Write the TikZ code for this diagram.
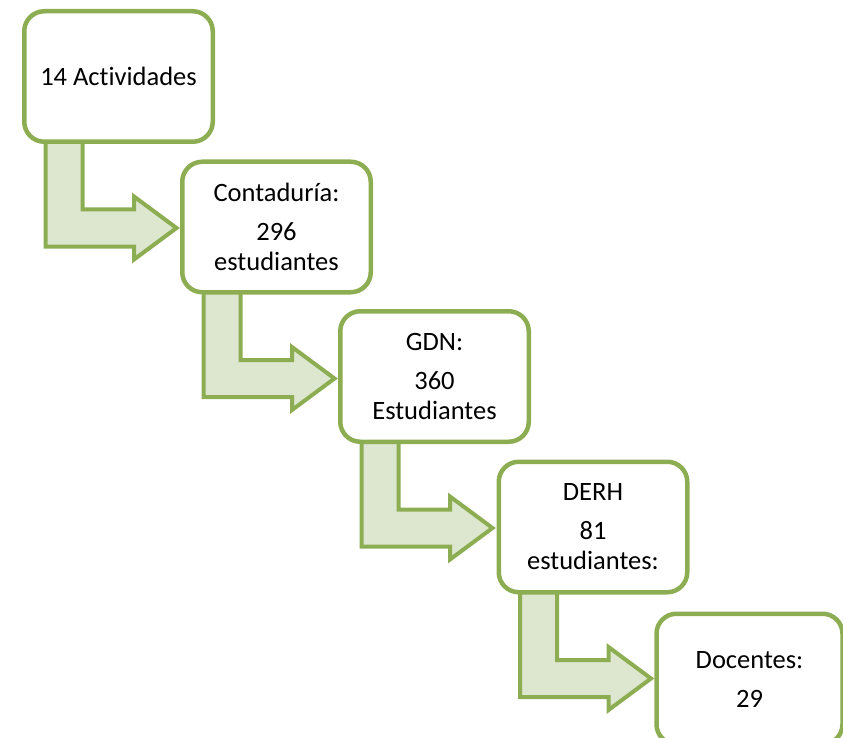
\documentclass[tikz,border=0pt]{standalone}
\usepackage{fontspec}
\setmainfont[Ligatures={NoCommon}]{Carlito}
\usetikzlibrary{calc,backgrounds}
\definecolor{olivestroke}{RGB}{141,173,82}
\definecolor{olivefill}{RGB}{221,231,207}
\tikzset{
  stagebox/.style={draw=olivestroke, line width=4.5pt, fill=white, rounded corners=20pt,
    minimum width=188.5pt, minimum height=130.5pt, inner sep=0pt, align=center,
    font=\fontsize{26.5}{30}\selectfont},
  bentarrow/.style={draw=olivestroke, fill=olivefill, line width=4pt, line join=miter}
}
\newcommand{\bentarrowfrom}[1]{%
  \draw[bentarrow] ($(#1)+(-73,63)$) -- ($(#1)+(-36,63)$) -- ($(#1)+(-36,133)$)
    -- ($(#1)+(15.5,133)$) -- ($(#1)+(15.5,120)$) -- ($(#1)+(58,151.5)$)
    -- ($(#1)+(15.5,183)$) -- ($(#1)+(15.5,170)$) -- ($(#1)+(-73,170)$) -- cycle;}
\begin{document}
\begin{tikzpicture}[x=1pt,y=-1pt]
  \clip (0,0) rectangle (843,738);
  \node[stagebox] (b1) at (118.5,76.5) {14 Actividades};
  \node[stagebox] (b2) at (276.5,227) {Contaduría:\\[9pt]296\\estudiantes};
  \node[stagebox] (b3) at (434.5,376.5) {GDN:\\[9pt]360\\Estudiantes};
  \node[stagebox] (b4) at (593,527) {DERH\\[9pt]81\\estudiantes:};
  \node[stagebox, minimum width=186pt] (b5) at (749.5,679) {Docentes:\\[9pt]29};
  \begin{scope}[on background layer]
    \bentarrowfrom{b1.center}
    \bentarrowfrom{b2.center}
    \bentarrowfrom{b3.center}
    \bentarrowfrom{b4.center}
  \end{scope}
\end{tikzpicture}
\end{document}
